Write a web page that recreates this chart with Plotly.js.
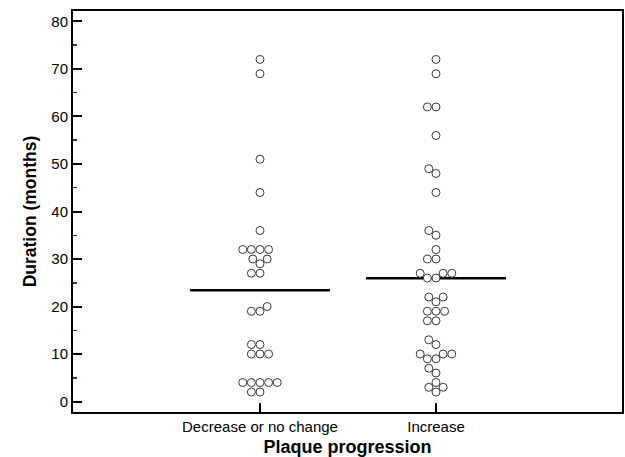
<!DOCTYPE html>
<html>
<head>
<meta charset="utf-8">
<script src="https://cdn.plot.ly/plotly-3.0.1.min.js"></script>
<style>html,body{margin:0;padding:0;background:#fff;}</style>
</head>
<body>
<div id="chart" style="width:625px;height:457px;"></div>
<script>
// Data
const categories = ["Decrease or no change", "Increase"];
const decreaseValues = [72,69,51,44,36,32,32,32,32,30,30,29,27,27,20,19,19,12,12,10,10,10,4,4,4,4,4,2,2];
const increaseValues = [72,69,62,62,56,49,48,44,36,35,32,30,30,27,27,27,26,26,22,22,21,19,19,19,17,17,13,12,10,10,10,9,9,7,6,4,3,3,2];
const yTickVals = [0,10,20,30,40,50,60,70,80];

// plot geometry (for swarm spacing)
const W = 625, H = 457;
const margin = {l:73, r:3, t:11, b:45};
const xRange = [-0.0625, 3.057];
const yRange = [-2.2, 82.2];
const pxPerX = (W - margin.l - margin.r) / (xRange[1] - xRange[0]);
const pxPerY = (H - margin.t - margin.b) / (yRange[1] - yRange[0]);
const diam = 8.6;

function swarm(values, center) {
  const sorted = values.slice().sort((a,b)=>a-b);
  const placed = [];
  const xs = [], ys = [];
  sorted.forEach(v => {
    const py = v * pxPerY;
    const cands = [0];
    placed.forEach(p => {
      const dy = Math.abs(p.y - py);
      if (dy < diam) {
        const dx = Math.sqrt(diam*diam - dy*dy);
        cands.push(p.x + dx, p.x - dx);
      }
    });
    cands.sort((a,b)=>Math.abs(a)-Math.abs(b) || a - b);
    let chosen = 0;
    for (const c of cands) {
      const ok = placed.every(p => {
        const dx = p.x - c, dy = p.y - py;
        return dx*dx + dy*dy >= diam*diam - 0.01;
      });
      if (ok) { chosen = c; break; }
    }
    placed.push({x: chosen, y: py});
    xs.push(center + chosen / pxPerX);
    ys.push(v);
  });
  return {x: xs, y: ys};
}

const mean = a => a.reduce((s,v)=>s+v,0)/a.length;

const groups = [decreaseValues, increaseValues];
const traces = [];
groups.forEach((vals, i) => {
  const c = i + 1;
  const m = mean(vals);
  traces.push({
    type: 'scatter', mode: 'lines',
    x: [c - 0.398, c + 0.398], y: [m, m],
    line: {color: '#000', width: 2.5},
    hoverinfo: 'skip'
  });
  const s = swarm(vals, c);
  traces.push({
    type: 'scatter', mode: 'markers',
    x: s.x, y: s.y,
    marker: {symbol: 'circle', size: 8, color: '#ffffff', line: {color: '#3a3a3a', width: 1}},
    name: categories[i]
  });
});

const layout = {
  width: W, height: H,
  margin: margin,
  paper_bgcolor: '#fff', plot_bgcolor: '#fff',
  showlegend: false,
  font: {family: 'Liberation Sans, Arial, sans-serif', size: 15, color: '#000'},
  xaxis: {
    range: xRange,
    tickvals: [1, 2], ticktext: categories,
    ticks: 'inside', ticklen: 9, tickwidth: 2, tickcolor: '#000',
    showline: true, linewidth: 2, linecolor: '#000', mirror: true,
    showgrid: false, zeroline: false,
    tickfont: {size: 15, color: '#000'},
    title: {text: '<b>Plaque progression</b>', font: {size: 18, color: '#000'}, standoff: 8}
  },
  yaxis: {
    range: yRange,
    tickvals: yTickVals,
    ticks: 'inside', ticklen: 9, tickwidth: 2, tickcolor: '#000',
    minor: {dtick: 5, tick0: 5, ticks: 'inside', ticklen: 4, tickwidth: 1.5, tickcolor: '#8b1a1a', showgrid: false},
    showline: true, linewidth: 2, linecolor: '#000', mirror: true,
    showgrid: false, zeroline: false,
    tickfont: {size: 15, color: '#000'},
    title: {text: '<b>Duration (months)</b>', font: {size: 17.5, color: '#000'}, standoff: 10}
  }
};

Plotly.newPlot('chart', traces, layout, {displayModeBar: false, staticPlot: true});
</script>
</body>
</html>
